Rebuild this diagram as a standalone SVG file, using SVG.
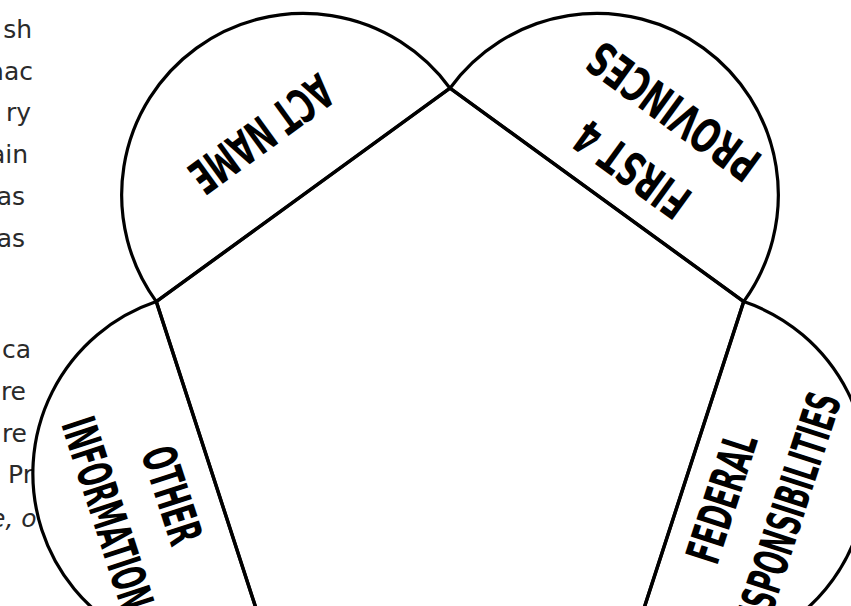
<svg xmlns="http://www.w3.org/2000/svg" width="851" height="606" viewBox="0 0 851 606">
  <style>
    .bg { fill: #ffffff; }
    .side { fill: #2a2a2a; font-family: "DejaVu Sans", "Liberation Sans", sans-serif; font-weight: normal; font-size: 25px; }
    .arc { fill: #ffffff; stroke: #000000; stroke-width: 3.2; }
    .edge { fill: none; stroke: #000000; stroke-width: 3.5; stroke-linejoin: miter; }
    .lbl { fill: #000000; font-family: "DejaVu Sans Condensed", "DejaVu Sans", sans-serif; font-stretch: condensed; font-weight: bold; font-size: 47px; }
  </style>
  <rect class="bg" x="0" y="0" width="851" height="606"/>

  <g id="side-text">
    <text class="side" x="32" y="38" text-anchor="end">sh</text>
    <text class="side" x="33" y="80" text-anchor="end">nac</text>
    <text class="side" x="31" y="121" text-anchor="end">ry</text>
    <text class="side" x="28" y="163" text-anchor="end">ain</text>
    <text class="side" x="25" y="205" text-anchor="end">as</text>
    <text class="side" x="25" y="247" text-anchor="end">as</text>
    <text class="side" x="31" y="358" text-anchor="end">ca</text>
    <text class="side" x="26" y="400" text-anchor="end">re</text>
    <text class="side" x="27" y="442" text-anchor="end">re</text>
    <text class="side" x="8" y="483">Pr</text>
    <text class="side" x="-10" y="527" font-style="italic">e, o</text>
  </g>

  <g id="flap-act-name">
    <path class="arc" d="M156.3,301.6 A181.5,181.5 0 0 1 450,88.2 Z"/>
    <text class="lbl" transform="translate(251.6,120.5) rotate(144)" text-anchor="middle" textLength="165" lengthAdjust="spacingAndGlyphs">ACT NAME</text>
  </g>

  <g id="flap-first-4-provinces">
    <path class="arc" d="M450,88.2 A181.5,181.5 0 0 1 743.7,301.6 Z"/>
    <text class="lbl" transform="translate(641.8,155.9) rotate(216)" text-anchor="middle" textLength="130" lengthAdjust="spacingAndGlyphs">FIRST 4</text>
    <text class="lbl" transform="translate(683.3,97.8) rotate(216)" text-anchor="middle" textLength="200" lengthAdjust="spacingAndGlyphs">PROVINCES</text>
  </g>

  <g id="flap-federal-responsibilities">
    <path class="arc" d="M743.7,301.6 A181.5,181.5 0 0 1 631.5,646.8 Z"/>
    <text class="lbl" transform="translate(737.6,503) rotate(-72)" text-anchor="middle" textLength="133" lengthAdjust="spacingAndGlyphs">FEDERAL</text>
    <text class="lbl" transform="translate(801.3,523.8) rotate(-72)" text-anchor="middle" textLength="262" lengthAdjust="spacingAndGlyphs">RESPONSIBILITIES</text>
  </g>

  <g id="flap-other-information">
    <path class="arc" d="M268.5,646.8 A181.5,181.5 0 0 1 156.3,301.6 Z"/>
    <text class="lbl" transform="translate(156.3,500.4) rotate(72)" text-anchor="middle" textLength="100" lengthAdjust="spacingAndGlyphs">OTHER</text>
    <text class="lbl" transform="translate(91.7,518.7) rotate(72)" text-anchor="middle" textLength="199" lengthAdjust="spacingAndGlyphs">INFORMATION</text>
  </g>

  <g id="connectors">
    <polygon class="edge" points="450,88.2 743.7,301.6 631.5,646.8 268.5,646.8 156.3,301.6"/>
  </g>
</svg>
